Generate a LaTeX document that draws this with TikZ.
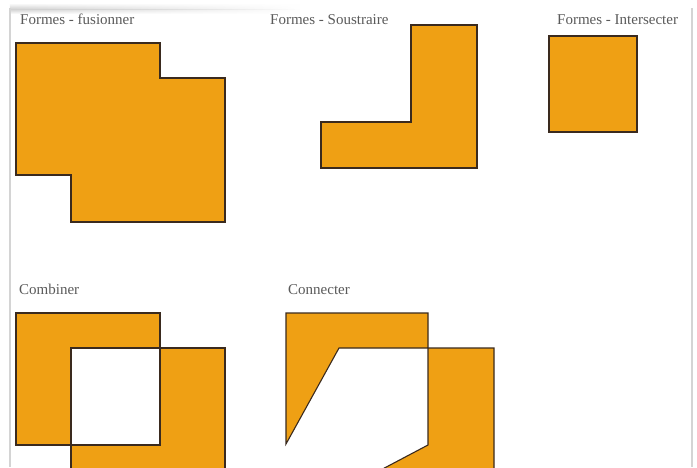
\documentclass[tikz,border=0pt]{standalone}
\usepackage{fontspec}
\setmainfont{Liberation Serif}
\usetikzlibrary{fadings}
\definecolor{shapefill}{HTML}{EFA014}
\definecolor{shapeline}{HTML}{3A2A1E}
\definecolor{labelgray}{HTML}{5A5A5A}
\definecolor{framegray}{HTML}{D4D4D4}
\tikzset{
  shapepoly/.style={fill=shapefill, draw=shapeline, line width=1.1pt, line join=miter},
  caption/.style={anchor=base west, inner sep=0pt, text=labelgray, font=\fontsize{15}{17}\selectfont},
  frameline/.style={draw=framegray, line width=1.4pt}
}
\begin{document}
\begin{tikzpicture}[x=1pt, y=-1pt]
\useasboundingbox (0,0) rectangle (697,467);
\fill[white] (0,0) rectangle (697,467);
% top shadow
\shade[top color=white, bottom color=black!18, path fading=east] (10,3) rectangle (300,9);
\shade[top color=black!18, bottom color=white, path fading=east] (10,9) rectangle (300,14);
% frame lines
\coordinate (fl1) at (10,8); \coordinate (fl2) at (10,467);
\coordinate (fr1) at (692,8); \coordinate (fr2) at (692,467);
\draw[frameline] (fl1) -- (fl2);
\draw[frameline] (fr1) -- (fr2);

% labels
\node[caption] (l1) at (20,24) {Formes - fusionner};
\node[caption] (l2) at (270,24) {Formes - Soustraire};
\node[caption] (l3) at (557,24) {Formes - Intersecter};
\node[caption] (l4) at (19,294) {Combiner};
\node[caption] (l5) at (288,294) {Connecter};

% fusionner
\draw[shapepoly] (16,43) -- (160,43) -- (160,78) -- (225,78) -- (225,222) -- (71,222) -- (71,175) -- (16,175) -- cycle;

% soustraire
\draw[shapepoly] (321,122) -- (411,122) -- (411,25) -- (477,25) -- (477,168) -- (321,168) -- cycle;

% intersecter
\draw[shapepoly] (549,36) rectangle (637,132);

\begin{scope}
\clip (0,0) rectangle (697,467);
% combiner
\fill[shapefill, even odd rule] (16,313) rectangle (160,445) (71,348) rectangle (225,492);
\draw[shapeline, line width=1.1pt] (16,313) rectangle (160,445);
\draw[shapeline, line width=1.1pt] (71,348) rectangle (225,492);
% connecter
\draw[shapepoly] (286,313) -- (428,313) -- (428,348) -- (339,348) -- (286,444) -- cycle;
\draw[shapepoly] (428,348) -- (494,348) -- (494,492) -- (339,492) -- (428,445) -- cycle;
\end{scope}
\end{tikzpicture}
\end{document}
